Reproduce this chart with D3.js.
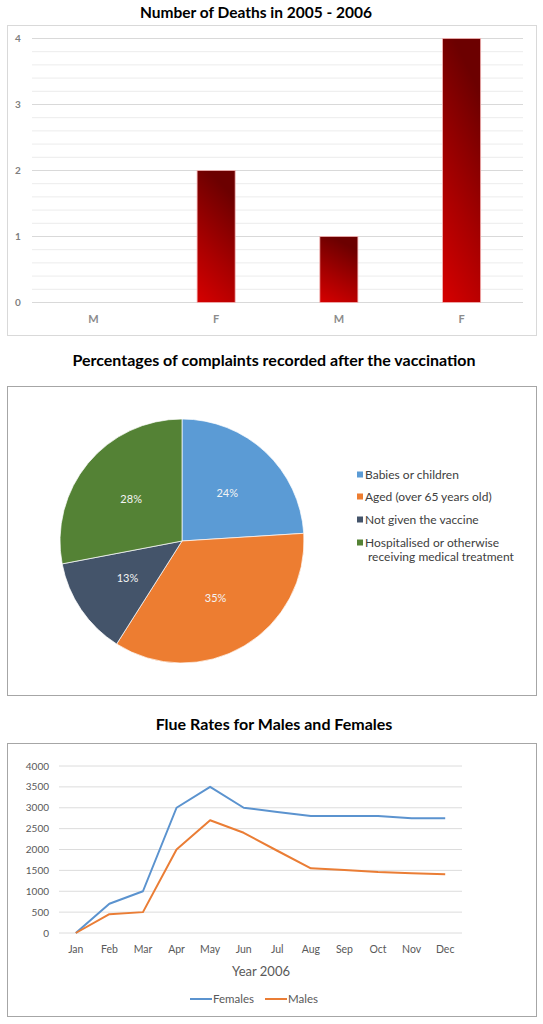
<html>
<head>
  <style>
    body { margin: 0; background: #fff; }
    text { font-family: Lato, "Open Sans", sans-serif; }
  </style>
  <script src="https://d3js.org/d3.v7.min.js"></script>
</head>
<body>
<div id="chart"></div>
<script type="text/javascript">
  // deaths bar chart
  var deathCats = ["M", "F", "M", "F"]
  var deathVals = [0, 2, 1, 4]
  var deathTicks = [0, 1, 2, 3, 4]

  // complaints pie
  var pieCats = ["Babies or children", "Aged (over 65 years old)", "Not given the vaccine", "Hospitalised or otherwise receiving medical treatment"]
  var pieVals = [24, 35, 13, 28]
  var pieColors = ["#5b9bd5", "#ed7d31", "#44546a", "#548235"]

  // flu line chart
  var months = ["Jan", "Feb", "Mar", "Apr", "May", "Jun", "Jul", "Aug", "Sep", "Oct", "Nov", "Dec"]
  var females = [0, 700, 1000, 3000, 3500, 3000, 2900, 2800, 2800, 2800, 2750, 2750]
  var males = [0, 450, 500, 2000, 2700, 2400, 1970, 1550, 1510, 1460, 1430, 1410]
  var lineTicks = [0, 500, 1000, 1500, 2000, 2500, 3000, 3500, 4000]

  var W = 543, H = 1024
  var svg = d3.select("#chart").append("svg")
      .attr("width", W)
      .attr("height", H)
  svg.append("rect").attr("width", W).attr("height", H).attr("fill", "#fff")

  var defs = svg.append("defs")
  var grad = defs.append("linearGradient")
      .attr("id", "barGrad")
      .attr("x1", 0.3).attr("y1", 0).attr("x2", 0).attr("y2", 1)
  grad.append("stop").attr("offset", "0%").attr("stop-color", "#6c0000")
  grad.append("stop").attr("offset", "55%").attr("stop-color", "#a80000")
  grad.append("stop").attr("offset", "100%").attr("stop-color", "#d60000")

  /* ---------- chart 1 : bars ---------- */
  svg.append("text")
      .attr("x", 256).attr("y", 17.5)
      .attr("text-anchor", "middle")
      .attr("font-size", 15.5).attr("font-weight", "bold")
      .attr("fill", "#000")
      .text("Number of Deaths in 2005 - 2006")

  svg.append("rect")
      .attr("x", 7.5).attr("y", 25.5).attr("width", 529).attr("height", 310)
      .attr("fill", "none").attr("stroke", "#d9d9d9")

  var xBar = d3.scaleBand().domain(d3.range(deathCats.length)).range([32, 523]).paddingInner(0.69).paddingOuter(0.345)
  var yBar = d3.scaleLinear().domain([0, 4]).range([302.5, 38.5])

  // minor + major grid
  svg.append("g").selectAll("line")
      .data(yBar.ticks(20))
      .enter().append("line")
      .attr("x1", 32).attr("x2", 523)
      .attr("y1", function(d) { return yBar(d) }).attr("y2", function(d) { return yBar(d) })
      .attr("stroke", function(d) { return Number.isInteger(Math.round(d * 1000) / 1000) ? "#d9d9d9" : "#ececec" })
      .attr("stroke-width", 1)

  svg.append("g").selectAll("text")
      .data(deathTicks)
      .enter().append("text")
      .attr("x", 18).attr("y", function(d) { return yBar(d) + 3.5 })
      .attr("text-anchor", "middle")
      .attr("font-size", 10).attr("font-weight", "bold")
      .attr("fill", "#7f7f7f")
      .text(function(d) { return d })

  svg.append("g").selectAll("rect")
      .data(deathVals)
      .enter().append("rect")
      .attr("x", function(d, i) { return xBar(i) })
      .attr("width", xBar.bandwidth())
      .attr("y", function(d) { return yBar(d) })
      .attr("height", function(d) { return yBar(0) - yBar(d) })
      .attr("fill", "url(#barGrad)")
      .attr("stroke", function(d) { return d > 0 ? "#f3b3b3" : "none" })
      .attr("stroke-width", 0.8)

  svg.append("g").selectAll("text")
      .data(deathCats)
      .enter().append("text")
      .attr("x", function(d, i) { return xBar(i) + xBar.bandwidth() / 2 })
      .attr("y", 323)
      .attr("text-anchor", "middle")
      .attr("font-size", 11).attr("font-weight", "bold")
      .attr("fill", "#8c8c8c")
      .text(function(d) { return d })

  /* ---------- chart 2 : pie ---------- */
  svg.append("text")
      .attr("x", 274).attr("y", 365.5)
      .attr("text-anchor", "middle")
      .attr("font-size", 16).attr("font-weight", "bold")
      .attr("fill", "#000")
      .text("Percentages of complaints recorded after the vaccination")

  svg.append("rect")
      .attr("x", 7.5).attr("y", 386.5).attr("width", 529).attr("height", 309)
      .attr("fill", "none").attr("stroke", "#a6a6a6")

  var pie = d3.pie().sort(null).value(function(d) { return d })
  var arcs = pie(pieVals)
  var arc = d3.arc().innerRadius(0).outerRadius(122)
  var labelArc = d3.arc().innerRadius(66).outerRadius(66)

  var pg = svg.append("g").attr("transform", "translate(182,541)")
  pg.selectAll("path")
      .data(arcs)
      .enter().append("path")
      .attr("d", arc)
      .attr("fill", function(d, i) { return pieColors[i] })
      .attr("stroke", "#fff").attr("stroke-width", 0.7)

  pg.selectAll("text")
      .data(arcs)
      .enter().append("text")
      .attr("transform", function(d) { return "translate(" + labelArc.centroid(d) + ")" })
      .attr("dy", "0.35em")
      .attr("text-anchor", "middle")
      .attr("font-size", 11)
      .attr("fill", "#f4f4f4")
      .text(function(d) { return d.data + "%" })

  // legend
  var legendRows = [
    { i: 0, lines: ["Babies or children"], y: 475 },
    { i: 1, lines: ["Aged (over 65 years old)"], y: 497 },
    { i: 2, lines: ["Not given the vaccine"], y: 520 },
    { i: 3, lines: ["Hospitalised or otherwise", "receiving medical treatment"], y: 543 }
  ]
  var lg = svg.append("g")
  legendRows.forEach(function(r) {
    lg.append("rect")
        .attr("x", 357).attr("y", r.y - 3.5).attr("width", 6).attr("height", 6)
        .attr("fill", pieColors[r.i])
    r.lines.forEach(function(t, k) {
      lg.append("text")
          .attr("x", k == 0 ? 365 : 368).attr("y", r.y + 4 + k * 14)
          .attr("font-size", 12)
          .attr("fill", "#404040")
          .text(t)
    })
  })

  /* ---------- chart 3 : lines ---------- */
  svg.append("text")
      .attr("x", 274).attr("y", 729.5)
      .attr("text-anchor", "middle")
      .attr("font-size", 16).attr("font-weight", "bold")
      .attr("fill", "#000")
      .text("Flue Rates for Males and Females")

  svg.append("rect")
      .attr("x", 7.5).attr("y", 743.5).attr("width", 529).attr("height", 273)
      .attr("fill", "none").attr("stroke", "#a6a6a6")

  var xLine = d3.scalePoint().domain(months).range([59, 462]).padding(0.5)
  var yLine = d3.scaleLinear().domain([0, 4000]).range([933, 766])

  svg.append("g").selectAll("line")
      .data(lineTicks)
      .enter().append("line")
      .attr("x1", 59).attr("x2", 462)
      .attr("y1", function(d) { return yLine(d) }).attr("y2", function(d) { return yLine(d) })
      .attr("stroke", "#dcdcdc")

  svg.append("g").selectAll("text")
      .data(lineTicks)
      .enter().append("text")
      .attr("x", 49).attr("y", function(d) { return yLine(d) + 3.5 })
      .attr("text-anchor", "end")
      .attr("font-size", 10)
      .attr("fill", "#595959")
      .text(function(d) { return d })

  svg.append("g").selectAll("text")
      .data(months)
      .enter().append("text")
      .attr("x", function(d) { return xLine(d) })
      .attr("y", 953)
      .attr("text-anchor", "middle")
      .attr("font-size", 10.5)
      .attr("fill", "#595959")
      .text(function(d) { return d })

  svg.append("text")
      .attr("x", 261).attr("y", 976)
      .attr("text-anchor", "middle")
      .attr("font-size", 13)
      .attr("fill", "#595959")
      .text("Year 2006")

  var line = d3.line()
      .x(function(d, i) { return xLine(months[i]) })
      .y(function(d) { return yLine(d) })

  var series = [
    { name: "Females", vals: females, color: "#5b93cf", lx: 190 },
    { name: "Males", vals: males, color: "#ea7d35", lx: 265 }
  ]
  series.forEach(function(s) {
    svg.append("path")
        .attr("d", line(s.vals))
        .attr("fill", "none")
        .attr("stroke", s.color)
        .attr("stroke-width", 2)
        .attr("stroke-linejoin", "round")
    svg.append("line")
        .attr("x1", s.lx).attr("x2", s.lx + 22)
        .attr("y1", 999).attr("y2", 999)
        .attr("stroke", s.color).attr("stroke-width", 2)
    svg.append("text")
        .attr("x", s.lx + 23).attr("y", 1003)
        .attr("font-size", 11.5)
        .attr("fill", "#595959")
        .text(s.name)
  })
</script>
</body>
</html>
